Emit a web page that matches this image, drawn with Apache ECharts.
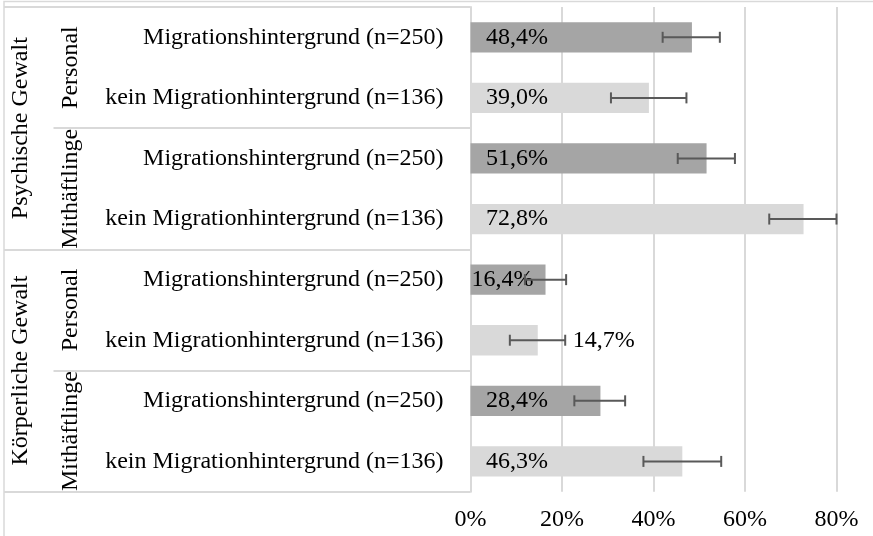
<!DOCTYPE html>
<html>
<head>
<meta charset="utf-8">
<script src="https://cdn.jsdelivr.net/npm/echarts@6/dist/echarts.min.js"></script>
<style>
  html, body { margin: 0; padding: 0; background: #fff; }
  #chart { width: 873px; height: 536px; }
</style>
</head>
<body>
<div id="chart"></div>
<script>
// Leaf categories (top to bottom)
const categories = [
  'Migrationshintergrund (n=250)',
  'kein Migrationhintergrund (n=136)',
  'Migrationshintergrund (n=250)',
  'kein Migrationhintergrund (n=136)',
  'Migrationshintergrund (n=250)',
  'kein Migrationhintergrund (n=136)',
  'Migrationshintergrund (n=250)',
  'kein Migrationhintergrund (n=136)'
];
// Second level: perpetrator group
const groupLevel2 = ['Personal', 'Mithäftlinge', 'Personal', 'Mithäftlinge'];
// Top level: type of violence
const groupLevel1 = ['Psychische Gewalt', 'Körperliche Gewalt'];

// Share of respondents (%)
const values = [48.4, 39.0, 51.6, 72.8, 16.4, 14.7, 28.4, 46.3];
// Confidence interval bounds (%)
const lowerBounds = [42.0, 30.7, 45.3, 65.3, 11.9, 8.6, 22.7, 37.8];
const upperBounds = [54.5, 47.2, 57.8, 80.0, 20.9, 20.7, 33.8, 54.8];

const xTicks = [0, 20, 40, 60, 80];

const FONT = "'Liberation Serif', 'Times New Roman', serif";
const FS = 24;
const GRID_COLOR = '#d9d9d9';
const DARK = '#a5a5a5';
const LIGHT = '#d9d9d9';

function fmt(v) { return v.toFixed(1).replace('.', ',') + '%'; }

// Per-bar label placement (short bars need special handling)
function labelFor(i) {
  const base = { show: true, color: '#000', fontFamily: FONT, fontSize: FS,
                 align: 'left', verticalAlign: 'middle', formatter: p => fmt(p.value) };
  if (i === 4) return Object.assign(base, { position: [1, '50%'] });
  if (i === 5) return Object.assign(base, { position: 'right', distance: 35 });
  return Object.assign(base, { position: [15.5, '50%'] });
}

const barData = values.map((v, i) => ({
  value: v,
  itemStyle: { color: i % 2 === 0 ? DARK : LIGHT },
  label: labelFor(i)
}));

const errData = values.map((v, i) => [i, lowerBounds[i], upperBounds[i]]);

const chart = echarts.init(document.getElementById('chart'));

const hiddenLine = { show: false };

chart.setOption({
  animation: false,
  backgroundColor: '#fff',
  graphic: [{
    type: 'rect',
    shape: { x: 4, y: 1.5, width: 2000, height: 2000 },
    style: { fill: 'none', stroke: GRID_COLOR, lineWidth: 1.5 },
    silent: true
  }],
  grid: { left: 470.5, right: 36.5, top: 7, bottom: 44.3, containLabel: false },
  xAxis: {
    type: 'value',
    min: xTicks[0],
    max: xTicks[xTicks.length - 1],
    interval: xTicks[1] - xTicks[0],
    axisLine: { show: false },
    axisTick: { show: false },
    splitLine: { show: true, lineStyle: { color: GRID_COLOR, width: 2 } },
    axisLabel: { formatter: '{value}%', color: '#000', fontFamily: FONT, fontSize: FS, margin: 16 }
  },
  yAxis: [
    {
      type: 'category',
      data: categories,
      inverse: true,
      position: 'left',
      axisLine: { show: true, lineStyle: { color: GRID_COLOR, width: 2 } },
      axisTick: { show: false },
      splitLine: hiddenLine,
      axisLabel: { interval: 0, color: '#000', fontFamily: FONT, fontSize: FS, margin: 27 }
    },
    {
      type: 'category',
      data: groupLevel2,
      inverse: true,
      position: 'left',
      axisLine: { show: false },
      axisTick: { show: true, interval: 0, length: 417, lineStyle: { color: GRID_COLOR, width: 2 } },
      splitLine: hiddenLine,
      axisLabel: { interval: 0, rotate: 90, color: '#000', fontFamily: FONT, fontSize: FS, margin: 388 }
    },
    {
      type: 'category',
      data: groupLevel1,
      inverse: true,
      position: 'left',
      axisLine: { show: false },
      axisTick: { show: true, interval: 0, length: 466.5, lineStyle: { color: GRID_COLOR, width: 2 } },
      splitLine: hiddenLine,
      axisLabel: { interval: 0, rotate: 90, color: '#000', fontFamily: FONT, fontSize: FS, margin: 438 }
    }
  ],
  series: [
    {
      type: 'bar',
      yAxisIndex: 0,
      data: barData,
      barCategoryGap: '50%',
      z: 2
    },
    {
      type: 'custom',
      yAxisIndex: 0,
      data: errData,
      encode: { y: 0, x: [1, 2] },
      z: 3,
      renderItem: function (params, api) {
        const idx = api.value(0);
        const lo = api.coord([api.value(1), idx]);
        const hi = api.coord([api.value(2), idx]);
        const h = 5.5;
        const style = { stroke: '#595959', lineWidth: 2, fill: 'none' };
        return {
          type: 'group',
          children: [
            { type: 'line', shape: { x1: lo[0], y1: lo[1], x2: hi[0], y2: hi[1] }, style },
            { type: 'line', shape: { x1: lo[0], y1: lo[1] - h, x2: lo[0], y2: lo[1] + h }, style },
            { type: 'line', shape: { x1: hi[0], y1: hi[1] - h, x2: hi[0], y2: hi[1] + h }, style }
          ]
        };
      }
    }
  ]
});
</script>
</body>
</html>
